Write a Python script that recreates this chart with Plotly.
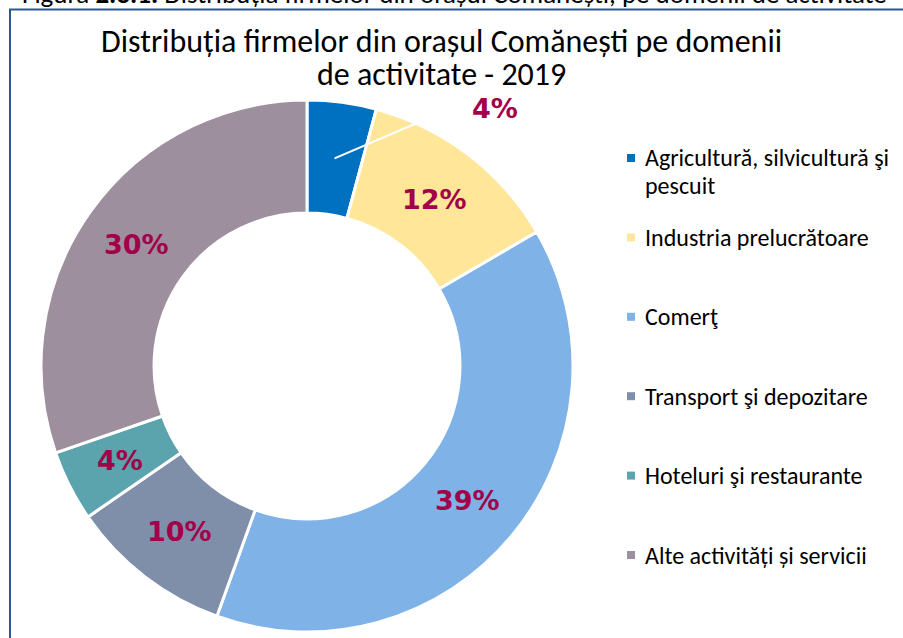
import math
import textwrap
import plotly.graph_objects as go

W, H = 903, 638

categories = [
    "Agricultură, silvicultură şi pescuit",
    "Industria prelucrătoare",
    "Comerţ",
    "Transport şi depozitare",
    "Hoteluri şi restaurante",
    "Alte activități și servicii",
]
values = [4.2, 12.4, 38.9, 9.9, 4.3, 30.3]
colors = ["#0070C0", "#FFE699", "#7FB2E6", "#7F8FAA", "#5BA3AD", "#9E8F9F"]

title_lines = ["Distribuția firmelor din orașul Comănești pe domenii", "de activitate - 2019"]
caption_text = "Figura <b>2.3.1.</b> Distribuția firmelor din orașul Comănești, pe domenii de activitate"

LABEL_COLOR = "#A3004A"
TEXT_FONT = "Carlito, Lato, sans-serif"
PCT_FONT = "Verdana, DejaVu Sans, sans-serif"
PCT_SIZE = 27


def px(x):
    return x / W


def py(y):
    return 1 - y / H


# pie geometry (pixels)
CX, CY, R = 307, 366, 266
HOLE = 0.575

total = sum(values)
pct = [round(v / total * 100) for v in values]

fig = go.Figure(
    go.Pie(
        labels=categories,
        values=values,
        sort=False,
        direction="clockwise",
        rotation=0,
        hole=HOLE,
        marker=dict(colors=colors, line=dict(color="white", width=3)),
        textinfo="none",
        showlegend=False,
        hoverinfo="label+percent",
        domain=dict(x=[px(CX - R), px(CX + R)], y=[py(CY + R), py(CY - R)]),
    )
)

annotations = []
shapes = []

# percentage labels at the middle of each ring segment
r_mid = R * (1 + HOLE) / 2
cum = 0.0
for i, v in enumerate(values):
    mid = (cum + v / 2) / total
    cum += v
    ang = 2 * math.pi * mid
    mx = CX + r_mid * math.sin(ang)
    my = CY - r_mid * math.cos(ang)
    if i == 0:
        # small slice: label outside with a leader line
        tx, ty = 495, 108
        shapes.append(dict(
            type="line", xref="paper", yref="paper",
            x0=px(mx), y0=py(my), x1=px(417), y1=py(123),
            line=dict(color="white", width=2),
        ))
    else:
        tx, ty = mx, my
    annotations.append(dict(
        x=px(tx), y=py(ty), xref="paper", yref="paper",
        xanchor="center", yanchor="middle",
        text=f"{pct[i]}%", showarrow=False,
        font=dict(family=PCT_FONT, size=PCT_SIZE, color=LABEL_COLOR, weight="bold"),
    ))

# title (two lines)
TITLE_SIZE = 32
for k, line in enumerate(title_lines):
    annotations.append(dict(
        x=px(441), y=py(41 + 33 * k), xref="paper", yref="paper",
        xanchor="center", yanchor="middle",
        text=line, showarrow=False,
        font=dict(family=TEXT_FONT, size=TITLE_SIZE, color="#000000"),
    ))

# cut-off caption at the very top
CAP_SIZE = 27
annotations.append(dict(
    x=px(454), y=py(3 + 0.33 * CAP_SIZE), xref="paper", yref="paper",
    xanchor="center", yanchor="bottom",
    text=caption_text, showarrow=False,
    font=dict(family=TEXT_FONT, size=CAP_SIZE, color="#000000"),
))

# legend drawn manually
LEG_X, LEG_Y0, LEG_DY, LEG_LINE = 631, 158, 79.4, 27
LEG_SIZE = 24
for i, (name, col) in enumerate(zip(categories, colors)):
    yc = LEG_Y0 + i * LEG_DY
    shapes.append(dict(
        type="rect", xref="paper", yref="paper",
        x0=px(LEG_X - 4), x1=px(LEG_X + 4), y0=py(yc - 4), y1=py(yc + 4),
        fillcolor=col, line=dict(width=0),
    ))
    for k, line in enumerate(textwrap.wrap(name, 28)):
        annotations.append(dict(
            x=px(LEG_X + 12), y=py(yc + k * LEG_LINE), xref="paper", yref="paper",
            xanchor="left", yanchor="middle", align="left",
            text=line, showarrow=False,
            font=dict(family=TEXT_FONT, size=LEG_SIZE, color="#000000"),
        ))

# frame
shapes.append(dict(
    type="rect", xref="paper", yref="paper",
    x0=px(10), x1=px(W + 10), y0=py(H + 10), y1=py(9.5),
    line=dict(color="#2F5597", width=2), fillcolor="rgba(0,0,0,0)",
    layer="below",
))

fig.update_layout(
    width=W, height=H,
    margin=dict(l=0, r=0, t=0, b=0),
    paper_bgcolor="white",
    plot_bgcolor="white",
    annotations=annotations,
    shapes=shapes,
)

fig.write_html(
    "out.html",
    config={"displayModeBar": False},
    post_script=(
        "document.body.style.margin='0';"
        "document.body.style.overflow='hidden';"
        "document.documentElement.style.overflow='hidden';"
    ),
)
